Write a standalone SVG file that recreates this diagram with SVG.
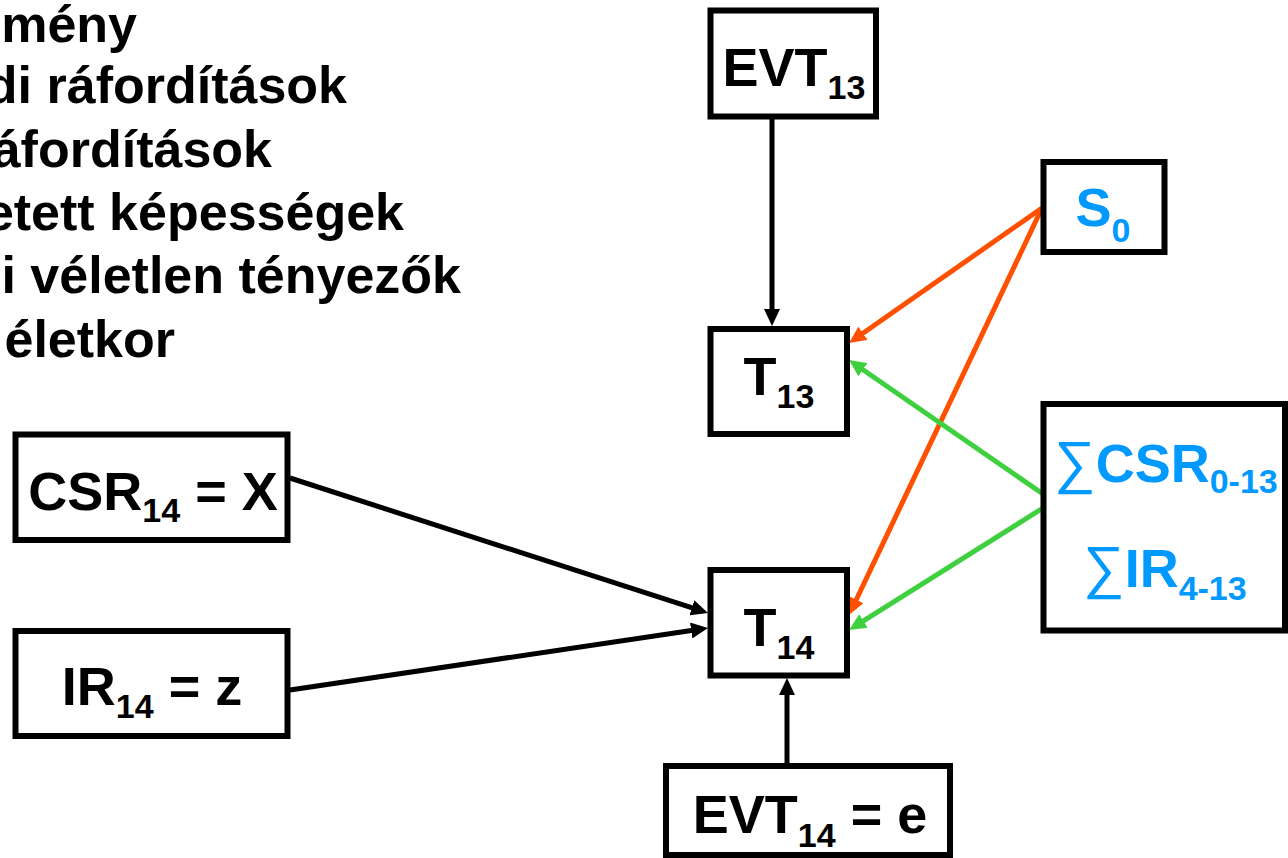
<svg xmlns="http://www.w3.org/2000/svg" width="1288" height="858" viewBox="0 0 1288 858">
<style>
text{font-family:"Liberation Sans",Arial,sans-serif;font-weight:bold;fill:#000}
.lt{font-size:52px;text-anchor:end}
.nt{font-size:54px;text-anchor:middle}
.sub{font-size:34px}
.sig{font-weight:normal;font-size:58px}
.blue{fill:#0099FF}
.box{fill:#fff;stroke:#000;stroke-width:6}
.c{fill:none;stroke-width:5}
.k{stroke:#000}
.o{stroke:#FF5000}
.g{stroke:#3FD03F}
</style>
<defs>
<marker id="ak" viewBox="0 0 17 16" refX="7" refY="8" markerWidth="17" markerHeight="16" markerUnits="userSpaceOnUse" orient="auto"><path d="M0,0 L17,8 L0,16 Z" fill="#000"/></marker>
<marker id="ao" viewBox="0 0 17 16" refX="7" refY="8" markerWidth="17" markerHeight="16" markerUnits="userSpaceOnUse" orient="auto"><path d="M0,0 L17,8 L0,16 Z" fill="#FF5000"/></marker>
<marker id="ag" viewBox="0 0 17 16" refX="7" refY="8" markerWidth="17" markerHeight="16" markerUnits="userSpaceOnUse" orient="auto"><path d="M0,0 L17,8 L0,16 Z" fill="#3FD03F"/></marker>
</defs>
<rect width="1288" height="858" fill="#fff"/>
<g id="list">
<text class="lt" x="137" y="42">mény</text>
<text class="lt" x="347" y="103">di ráfordítások</text>
<text class="lt" x="272" y="167">áfordítások</text>
<text class="lt" x="404" y="230">etett képességek</text>
<text class="lt" x="461" y="293">i véletlen tényezők</text>
<text class="lt" x="175" y="357">életkor</text>
</g>
<g id="connectors">
<line class="c k" x1="772" y1="119" x2="772" y2="316" marker-end="url(#ak)"/>
<line class="c o" x1="1042" y1="208" x2="857.2" y2="337.3" marker-end="url(#ao)"/>
<line class="c o" x1="1042" y1="208" x2="853.3" y2="606" marker-end="url(#ao)"/>
<line class="c g" x1="1043" y1="494" x2="857.2" y2="365.7" marker-end="url(#ag)"/>
<line class="c g" x1="1043" y1="508" x2="857.5" y2="624.7" marker-end="url(#ag)"/>
<line class="c k" x1="290" y1="478" x2="698.5" y2="609.9" marker-end="url(#ak)"/>
<line class="c k" x1="290" y1="690" x2="698.1" y2="629.5" marker-end="url(#ak)"/>
<line class="c k" x1="787" y1="766" x2="787" y2="688" marker-end="url(#ak)"/>
</g>
<g id="evt13">
<rect class="box" x="710.5" y="10.5" width="165.5" height="106"/>
<text class="nt" x="794" y="86">EVT<tspan class="sub" dy="13">13</tspan></text>
</g>
<g id="t13">
<rect class="box" x="710.5" y="329" width="136.5" height="105"/>
<text class="nt" x="779" y="395">T<tspan class="sub" dy="13">13</tspan></text>
</g>
<g id="s0">
<rect class="box" x="1043.5" y="162" width="121" height="90"/>
<text class="nt blue" x="1103" y="226">S<tspan class="sub" dy="16">0</tspan></text>
</g>
<g id="sums">
<rect class="box" x="1043.5" y="404" width="241.5" height="226.5"/>
<text class="nt blue" x="1166" y="482"><tspan class="sig">∑</tspan>CSR<tspan class="sub" dy="11">0-13</tspan></text>
<text class="nt blue" x="1165" y="587"><tspan class="sig">∑</tspan>IR<tspan class="sub" dy="13">4-13</tspan></text>
</g>
<g id="csr14">
<rect class="box" x="15.5" y="434.5" width="272" height="105.5"/>
<text class="nt" x="153" y="510">CSR<tspan class="sub" dy="12">14</tspan><tspan dy="-12"> = X</tspan></text>
</g>
<g id="ir14">
<rect class="box" x="15.5" y="631" width="272" height="105"/>
<text class="nt" x="152" y="705">IR<tspan class="sub" dy="13">14</tspan><tspan dy="-13"> = z</tspan></text>
</g>
<g id="t14">
<rect class="box" x="710.5" y="570" width="136.5" height="105.5"/>
<text class="nt" x="779" y="646">T<tspan class="sub" dy="13">14</tspan></text>
</g>
<g id="evt14">
<rect class="box" x="666" y="766" width="284" height="89"/>
<text class="nt" x="810" y="833">EVT<tspan class="sub" dy="14">14</tspan><tspan dy="-14"> = e</tspan></text>
</g>
</svg>
